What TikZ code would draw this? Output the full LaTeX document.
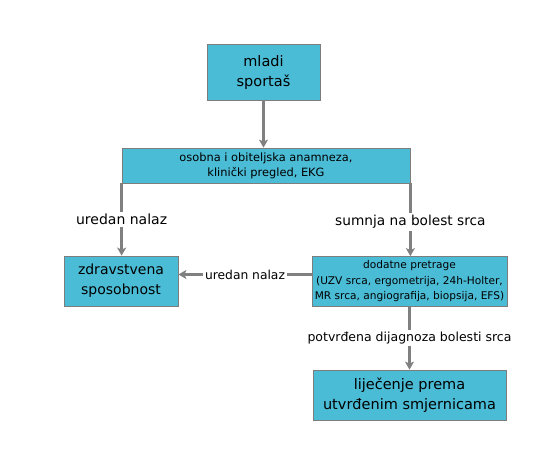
\documentclass[tikz,border=0pt]{standalone}
\usepackage{fontspec}
\setmainfont{DejaVu Sans}
\usetikzlibrary{positioning}
\usetikzlibrary{arrows.meta}
\definecolor{boxfill}{RGB}{75,188,214}
\definecolor{edgegray}{RGB}{125,125,125}
\definecolor{linegray}{RGB}{128,128,128}

\begin{document}
\begin{tikzpicture}[x=1pt,y=-1pt,
  box/.style={draw=edgegray, fill=boxfill, line width=0.8pt, align=center, inner sep=1pt},
  link/.style={draw=linegray, line width=2.6pt, -{Stealth[length=8pt,width=9pt,inset=2pt]}},
  lbl/.style={fill=white, inner sep=2pt, text=black}]

\useasboundingbox (0,0) rectangle (557,451);

%---------------------------------------
% Boxes
%---------------------------------------
\node[box, minimum width=113pt, minimum height=56pt,
      font=\fontsize{14.5}{20}\selectfont] (sportas) at (263.5,72) {mladi\\sportaš};
\node[box, minimum width=288pt, minimum height=35pt,
      font=\fontsize{11.4}{15}\selectfont] (anamneza) at (266,165.5)
      {osobna i obiteljska anamneza,\\klinički pregled, EKG};
\node[box, minimum width=114pt, minimum height=50pt,
      font=\fontsize{14}{20}\selectfont] (sposobnost) at (121,281) {zdravstvena\\sposobnost};
\node[box, minimum width=195pt, minimum height=50pt,
      font=\fontsize{10.6}{15.5}\selectfont] (pretrage) at (409.5,281.5)
      {dodatne pretrage\\(UZV srca, ergometrija, 24h-Holter,\\MR srca, angiografija, biopsija, EFS)};
\node[box, minimum width=193pt, minimum height=50pt,
      font=\fontsize{14.5}{20}\selectfont] (lijecenje) at (409.5,395)
      {liječenje prema\\utvrđenim smjernicama};

%---------------------------------------
% Connectors
%---------------------------------------
\draw[link] (sportas) -- (sportas |- anamneza.north);
\draw[link] (anamneza.south west) -- (anamneza.south west |- sposobnost.north)
  node[lbl, midway, font=\fontsize{14}{16}\selectfont] (lblnalaz) {uredan nalaz};
\draw[link] (anamneza.south east) -- (anamneza.south east |- pretrage.north)
  node[lbl, pos=0.53, font=\fontsize{13.7}{16}\selectfont] (lblsumnja) {sumnja na bolest srca};
\draw[link] ([yshift=7pt]pretrage.west) -- ([yshift=7pt]pretrage.west -| sposobnost.east)
  node[lbl, midway, font=\fontsize{12.3}{14}\selectfont] (lblnalazb) {uredan nalaz};
\draw[link] (pretrage) -- (lijecenje)
  node[lbl, midway, font=\fontsize{12.5}{14}\selectfont] (lblpotvrda) {potvrđena dijagnoza bolesti srca};

\end{tikzpicture}
\end{document}
